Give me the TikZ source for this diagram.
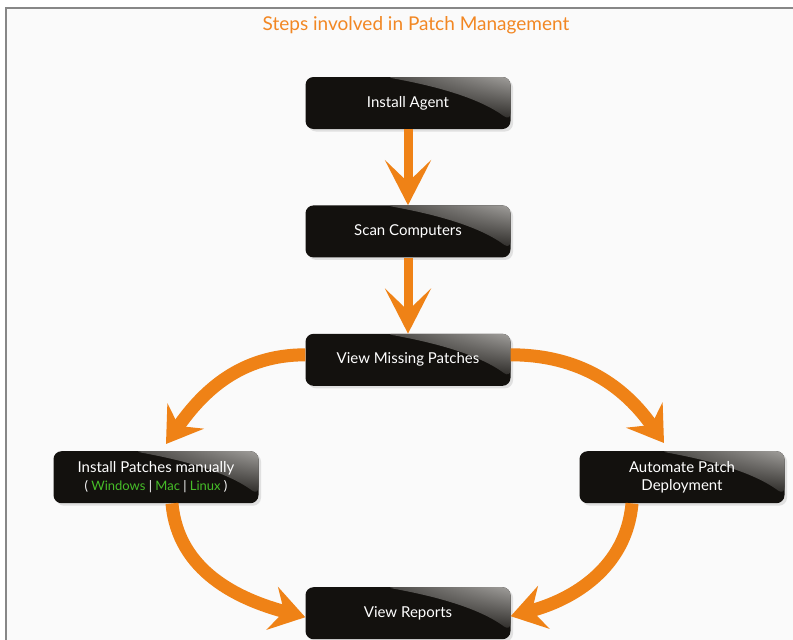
\documentclass[tikz,border=0pt]{standalone}
\usepackage{fontspec}
\setmainfont{Lato}
\usetikzlibrary{arrows.meta,positioning,shadows,shadings}

\definecolor{boxblack}{RGB}{19,17,14}
\definecolor{glossgray}{RGB}{160,158,155}
\definecolor{arroworange}{RGB}{239,130,22}
\definecolor{titleorange}{RGB}{242,135,35}
\definecolor{osgreen}{RGB}{70,190,40}
\definecolor{panelbg}{RGB}{250,250,250}
\definecolor{framegray}{RGB}{135,135,135}

\begin{document}
\begin{tikzpicture}[
  x=1pt, y=1pt,
  node distance=76pt and 76pt,
  stepbox/.style={rounded corners=8pt, fill=boxblack, text=white, align=center, minimum width=205pt, minimum height=52pt, inner sep=0pt, font=\fontsize{15}{18}\selectfont,
    drop shadow={shadow xshift=2.5pt, shadow yshift=-2.5pt, fill=black!22},
    path picture={\shade[upper right=glossgray, upper left=boxblack, lower left=boxblack, lower right=boxblack]
      ([xshift=-125pt]path picture bounding box.north east) .. controls +(55pt,-10pt) and +(-30pt,22pt) .. ([yshift=8pt]path picture bounding box.south east) -- (path picture bounding box.north east) -- cycle;}},
  downarrow/.style={arroworange, line width=9pt, -{Stealth[length=45pt, width=46pt, inset=22pt]}},
  bendarrow/.style={arroworange, line width=13pt, -{Stealth[length=34pt, width=44pt, inset=12pt]}}
]
\useasboundingbox (0,0) rectangle (793,-640);
\fill[white] (0,0) rectangle (793,-640);
\fill[panelbg] (6,-8) rectangle (793,-640);
\draw[framegray, line width=1.5pt] (6,-640) -- (6,-8) -- (793,-8);

\node[text=titleorange, font=\fontsize{19}{22}\selectfont] (title) at (416,-25) {Steps involved in Patch Management};

\node[stepbox] (agent) at (408,-103) {Install Agent};
\node[stepbox, below=of agent] (scan) {Scan Computers};
\node[stepbox, below=of scan] (missing) {View Missing Patches};
\node[stepbox, below=65pt of missing, xshift=-252pt] (manual) {Install Patches manually\\{\fontsize{13}{18}\selectfont ( \textcolor{osgreen}{Windows} | \textcolor{osgreen}{Mac} | \textcolor{osgreen}{Linux} )}};
\node[stepbox, below=65pt of missing, xshift=274pt] (auto) {Automate Patch\\Deployment};
\node[stepbox, below=201pt of missing] (reports) {View Reports};

\draw[downarrow] (agent) -- (scan);
\draw[downarrow] (scan) -- (missing);
\draw[bendarrow] ([yshift=5pt]missing.west) to[out=180, in=55] ([xshift=10pt, yshift=7pt]manual.north);
\draw[bendarrow] ([yshift=5pt]missing.east) to[out=0, in=125] ([xshift=-18pt, yshift=8pt]auto.north);
\draw[bendarrow] ([xshift=16pt]manual.south) to[out=-85, in=165] ([yshift=-4pt]reports.west);
\draw[bendarrow] ([xshift=-50pt]auto.south) to[out=-95, in=15] ([yshift=-3pt]reports.east);
\end{tikzpicture}
\end{document}
